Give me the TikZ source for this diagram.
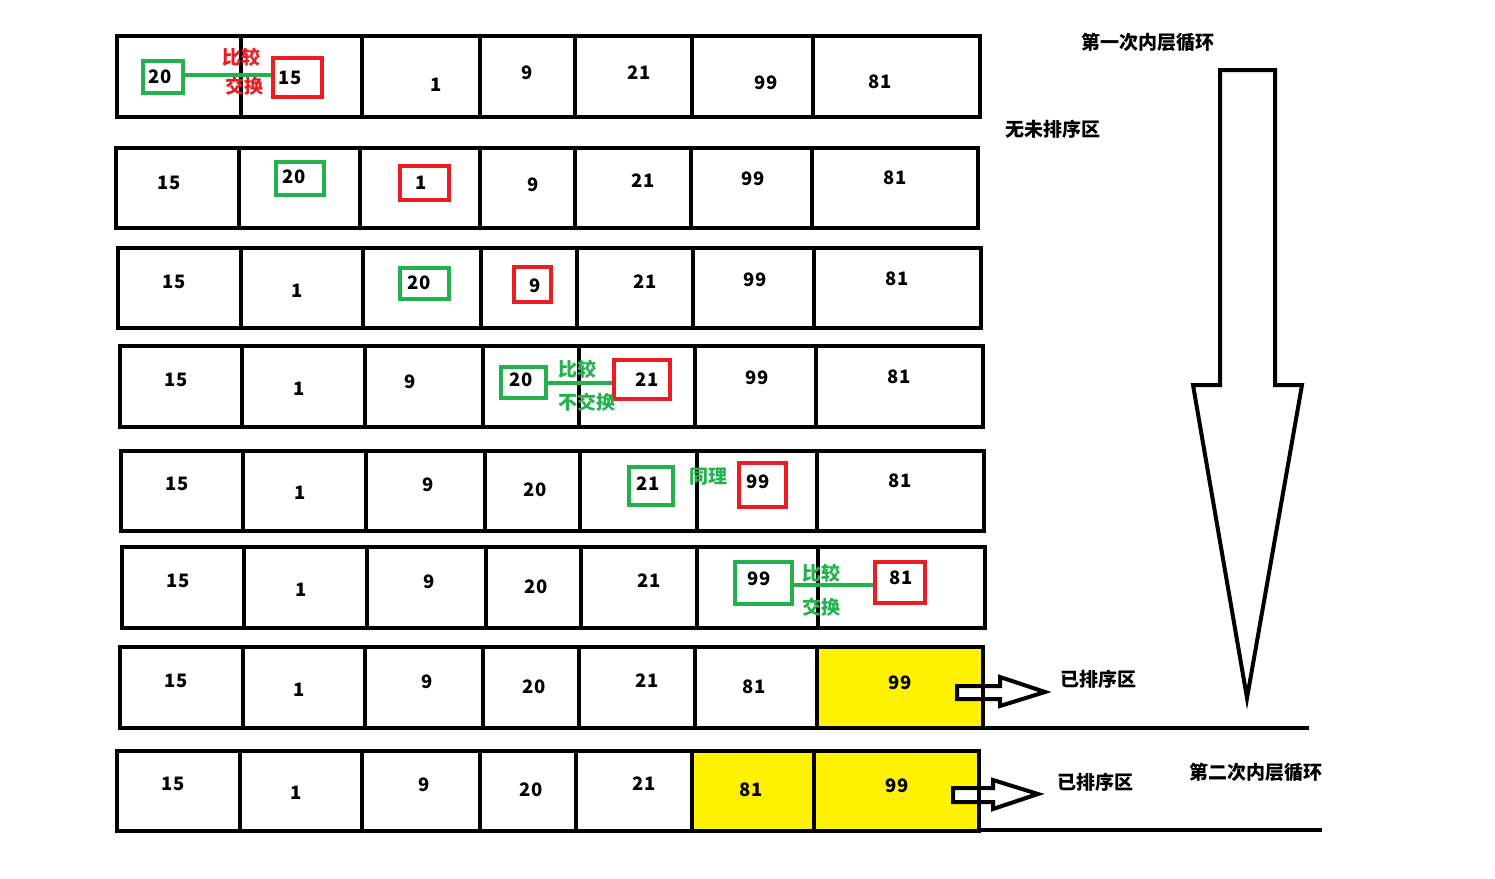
\documentclass[tikz,border=0pt]{standalone}
\usepackage{fontspec}
\setmainfont{Noto Sans CJK SC}
\definecolor{pred}{HTML}{ED1C24}
\definecolor{pgreen}{HTML}{22B14C}
\definecolor{pyellow}{HTML}{FFF200}
\tikzset{
  cell/.style={line width=4pt, line cap=rect},
  txt/.style={inner sep=0pt, font=\fontsize{18.5}{20}\selectfont\bfseries},
  lbl/.style={inner sep=0pt, font=\fontsize{19}{21}\selectfont\bfseries},
  gbox/.style={draw=pgreen, line width=4pt, inner sep=0pt},
  rbox/.style={draw=pred, line width=4pt, inner sep=0pt},
  glink/.style={draw=pgreen, line width=4pt},
  gtxt/.style={lbl, text=pgreen},
  rtxt/.style={lbl, text=pred},
  hollow/.style={draw=black, line width=4pt, line join=miter, fill=white},
}
\newcommand\cellrow[5]{%
  \draw[cell] (#3,#1) rectangle (#4,#2);
  \foreach \d in {#5} \draw[cell] (\d,#1) -- (\d,#2);}
\begin{document}
\begin{tikzpicture}[x=1pt,y=-1pt]
\useasboundingbox[fill=white] (0,0) rectangle (1495,878);
% yellow fills
\fill[pyellow] (817,647) rectangle (983,728);
\fill[pyellow] (692,751) rectangle (979,831);
% rows
\cellrow{36}{117}{117}{980}{241,362,480,575,692,813}
\cellrow{148}{228}{116}{978}{239,360,480,575,691,812}
\cellrow{248}{328}{118}{981}{241,363,481,577,693,814}
\cellrow{346}{427}{120}{983}{242,365,483,579,695,816}
\cellrow{451}{531}{121}{984}{243,366,485,580,697,817}
\cellrow{547}{628}{122}{985}{244,367,486,581,697,818}
\cellrow{647}{728}{120}{983}{243,365,483,579,695,817}
\cellrow{751}{831}{117}{979}{240,362,480,576,692,814}
\draw[cell] (983,728) -- (1307,728);
\draw[cell] (979,830) -- (1320,830);
% row 1
\node[gbox, minimum width=40pt, minimum height=32pt] (g1) at (163,77) {};
\node[rbox, minimum width=49pt, minimum height=39pt] (r1) at (297.5,77.5) {};
\draw[glink] (g1.east |- 0,75) -- (r1.west |- 0,75);
\node[txt] (n11) at (160,77) {20};
\node[txt] (n12) at (290,78) {15};
\node[rtxt] (c1a) at (241,57) {比较};
\node[rtxt] (c1b) at (244,86) {交换};
\node[txt] (n13) at (436,85) {1};
\node[txt] (n14) at (527,73) {9};
\node[txt] (n15) at (639,73) {21};
\node[txt] (n16) at (766,83) {99};
\node[txt] (n17) at (880,82) {81};
% row 2
\node[txt] (n21) at (169,183) {15};
\node[gbox, minimum width=48pt, minimum height=33pt] (g2) at (300,178.5) {};
\node[txt] (n22) at (294,177) {20};
\node[rbox, minimum width=49pt, minimum height=34pt] (r2) at (424.5,183) {};
\node[txt] (n23) at (421,183) {1};
\node[txt] (n24) at (533,185) {9};
\node[txt] (n25) at (643,181) {21};
\node[txt] (n26) at (753,179) {99};
\node[txt] (n27) at (895,178) {81};
% row 3
\node[txt] (n31) at (174,282) {15};
\node[txt] (n32) at (297,291) {1};
\node[gbox, minimum width=49pt, minimum height=31pt] (g3) at (424.5,283.5) {};
\node[txt] (n33) at (419,283) {20};
\node[rbox, minimum width=37pt, minimum height=35pt] (r3) at (532.5,284.5) {};
\node[txt] (n34) at (535,286) {9};
\node[txt] (n35) at (645,282) {21};
\node[txt] (n36) at (755,280) {99};
\node[txt] (n37) at (897,279) {81};
% row 4
\node[txt] (n41) at (176,380) {15};
\node[txt] (n42) at (299,389) {1};
\node[txt] (n43) at (410,382) {9};
\node[gbox, minimum width=45pt, minimum height=31pt] (g4) at (523.5,382.5) {};
\node[rbox, minimum width=56pt, minimum height=39pt] (r4) at (642,379.5) {};
\draw[glink] (g4.east |- 0,383) -- (r4.west |- 0,383);
\node[txt] (n44) at (521,380) {20};
\node[txt] (n45) at (647,380) {21};
\node[gtxt] (c4a) at (577,369) {比较};
\node[gtxt] (c4b) at (587,402) {不交换};
\node[txt] (n46) at (757,378) {99};
\node[txt] (n47) at (899,377) {81};
% row 5
\node[txt] (n51) at (177,484) {15};
\node[txt] (n52) at (300,493) {1};
\node[txt] (n53) at (428,485) {9};
\node[txt] (n54) at (535,490) {20};
\node[gbox, minimum width=44pt, minimum height=38pt] (g5) at (651,486) {};
\node[txt] (n55) at (648,484) {21};
\node[gtxt] (c5) at (708,477) {同理};
\node[rbox, minimum width=47pt, minimum height=44pt] (r5) at (762.5,485) {};
\node[txt] (n56) at (758,482) {99};
\node[txt] (n57) at (900,481) {81};
% row 6
\node[txt] (n61) at (178,581) {15};
\node[txt] (n62) at (301,590) {1};
\node[txt] (n63) at (429,582) {9};
\node[txt] (n64) at (536,587) {20};
\node[txt] (n65) at (649,581) {21};
\node[gbox, minimum width=57pt, minimum height=42pt] (g6) at (763.5,583) {};
\node[rbox, minimum width=50pt, minimum height=41pt] (r6) at (900,582.5) {};
\draw[glink] (g6.east |- 0,585) -- (r6.west |- 0,585);
\node[txt] (n66) at (759,579) {99};
\node[txt] (n67) at (901,578) {81};
\node[gtxt] (c6a) at (821,573) {比较};
\node[gtxt] (c6b) at (821,607) {交换};
% row 7
\node[txt] (n71) at (176,681) {15};
\node[txt] (n72) at (299,690) {1};
\node[txt] (n73) at (427,682) {9};
\node[txt] (n74) at (534,687) {20};
\node[txt] (n75) at (647,681) {21};
\node[txt] (n76) at (754,687) {81};
\node[txt] (n77) at (900,683) {99};
\draw[hollow] (957,686) -- (1000,686) -- (1000,677) -- (1045,692) -- (1000,706) -- (1000,699) -- (957,699) -- cycle;
\draw[cell] (983,647) -- (983,728);
\node[lbl] (s7) at (1098,679) {已排序区};
% row 8
\node[txt] (n81) at (173,784) {15};
\node[txt] (n82) at (296,793) {1};
\node[txt] (n83) at (424,785) {9};
\node[txt] (n84) at (531,790) {20};
\node[txt] (n85) at (644,784) {21};
\node[txt] (n86) at (751,790) {81};
\node[txt] (n87) at (897,786) {99};
\draw[hollow] (953,788) -- (993,788) -- (993,780) -- (1038,794) -- (993,809) -- (993,802) -- (953,802) -- cycle;
\draw[cell] (979,751) -- (979,831);
\node[lbl] (s8) at (1095,782) {已排序区};
\node[lbl] (t2) at (1256,772) {第二次内层循环};
% labels and big arrow
\node[lbl] (t1) at (1148,42) {第一次内层循环};
\node[lbl] (u1) at (1053,129) {无未排序区};
\draw[line width=4pt, line join=miter] (1220,70) -- (1275,70) -- (1275,385) -- (1302,385) -- (1247,698) -- (1193,385) -- (1220,385) -- cycle;
\end{tikzpicture}
\end{document}
